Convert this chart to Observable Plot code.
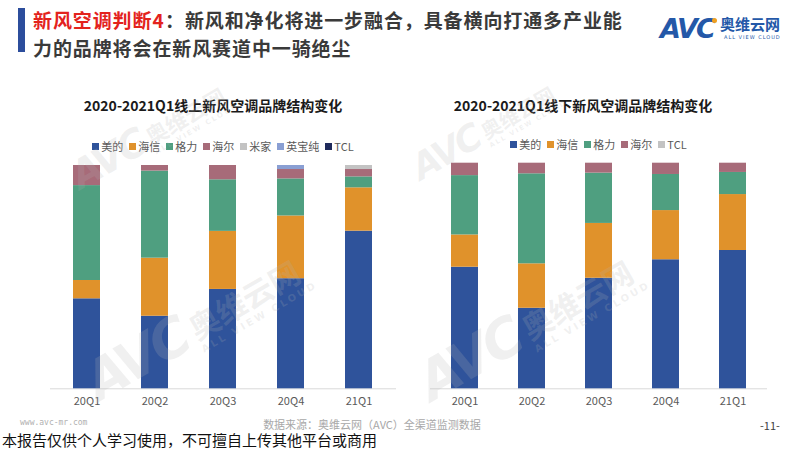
<!DOCTYPE html>
<html><head><meta charset="utf-8">
<script src="https://cdn.jsdelivr.net/npm/d3@7"></script>
<script src="https://cdn.jsdelivr.net/npm/@observablehq/plot@0.6"></script>
<style>
html,body{margin:0;padding:0;background:#fff;}
#page{position:relative;width:800px;height:450px;overflow:hidden;background:#fff;font-family:"Noto Sans CJK SC","Noto Sans",sans-serif;}
.abs{position:absolute;white-space:nowrap;}
.legend{position:absolute;display:flex;justify-content:center;gap:6px;font-size:11px;color:#595959;line-height:14px;}
.legend .it{display:flex;align-items:center;gap:2px;}
.legend .sw{width:7px;height:7px;display:inline-block;}
.wm{position:absolute;transform-origin:0 100%;color:rgba(180,180,180,0.20);white-space:nowrap;z-index:5;pointer-events:none;font-family:"DejaVu Sans","Noto Sans CJK SC",sans-serif;}
.wm .a{font-size:60px;font-weight:bold;font-style:italic;letter-spacing:-4px;vertical-align:bottom;}
.wm .b{display:inline-block;vertical-align:bottom;margin-left:8px;}
.wm .b1{font-size:34px;font-weight:bold;font-family:"Noto Sans CJK SC";line-height:38px;display:block;}
.wm .b2{font-size:11px;letter-spacing:3px;display:block;font-weight:bold;}
.tt{font-size:19px;line-height:27px;letter-spacing:0.9px;font-weight:bold;color:#3a3a3a;}
</style></head>
<body><div id="page"></div>
<script>
// ---------- data ----------
const quarters = ["20Q1","20Q2","20Q3","20Q4","21Q1"];
const onlineBrands = ["美的","海信","格力","海尔","米家","英宝纯","TCL"];
const onlineColors = ["#2f539b","#e0922b","#4f9f80","#a76b79","#c3c3c3","#8a9fd3","#1f2b5c"];
const onMidea   = [40.3, 32.5, 44.5, 49.3, 70.6];
const onHisense = [ 8.2, 26.0, 26.0, 28.1, 19.4];
const onGree    = [42.5, 39.0, 23.1, 16.6,  4.9];
const onHaier   = [ 9.0,  2.5,  6.4,  4.2,  3.3];
const onMijia   = [ 0,    0,    0,    0,    1.8];
const onYingbao = [ 0,    0,    0,    1.8,  0  ];
const onTCL     = [ 0,    0,    0,    0,    0  ];

const offlineBrands = ["美的","海信","格力","海尔","TCL"];
const offlineColors = ["#2f539b","#e0922b","#4f9f80","#a76b79","#c3c3c3"];
const offMidea   = [53.9, 35.7, 49.0, 57.2, 61.3];
const offHisense = [14.3, 19.7, 24.3, 21.8, 24.8];
const offGree    = [26.3, 39.9, 22.3, 16.0,  9.8];
const offHaier   = [ 5.5,  4.7,  4.4,  5.0,  4.1];
const offTCL     = [ 0,    0,    0,    0,    0  ];

const mainTitleRed = "新风空调判断4";
const mainTitleRest1 = "：新风和净化将进一步融合，具备横向打通多产业能";
const mainTitleLine2 = "力的品牌将会在新风赛道中一骑绝尘";
const leftTitle = "2020-2021Q1线上新风空调品牌结构变化";
const rightTitle = "2020-2021Q1线下新风空调品牌结构变化";
const sourceText = "数据来源：奥维云网（AVC）全渠道监测数据";
const siteText = "www.avc-mr.com";
const pageNo = "-11-";
const disclaimer = "本报告仅供个人学习使用，不可擅自上传其他平台或商用";

// ---------- helpers ----------
const page = document.getElementById("page");
function el(tag, cls, style, html){const e=document.createElement(tag); if(cls) e.className=cls; if(style) e.setAttribute("style",style); if(html!=null) e.textContent=html; page.appendChild(e); return e;}
function toRows(brands, series){const rows=[]; brands.forEach((b,i)=>quarters.forEach((q,j)=>rows.push({q, brand:b, v:series[i][j]}))); return rows;}

const font = '"Noto Sans CJK SC","Noto Sans",sans-serif';
function chart(rows, brands, colors, o){
  return Plot.plot({
    width:o.width, height:o.height,
    marginLeft:o.ml, marginRight:o.mr, marginTop:o.mt, marginBottom:o.mb,
    x:{domain:quarters, paddingInner:0.6, paddingOuter:o.po, label:null, tickSize:0, tickPadding:8},
    y:{domain:[0,100], axis:null},
    color:{domain:brands, range:colors},
    style:{fontFamily:font, fontSize:"11px", color:"#595959", background:"transparent", overflow:"visible"},
    marks:[
      Plot.ruleY([0],{stroke:"#d9d9d9", strokeWidth:1}),
      Plot.barY(rows.filter(d=>d.v>0),{x:"q", y:"v", fill:"brand", z:"brand", order:brands})
    ]
  });
}
function legend(brands, colors, left, width, top){
  const L = el("div","legend",`left:${left}px;width:${width}px;top:${top}px;`);
  brands.forEach((b,i)=>{
    const it=document.createElement("span"); it.className="it";
    const sw=document.createElement("span"); sw.className="sw"; sw.style.background=colors[i];
    const tx=document.createElement("span"); tx.textContent=b;
    it.appendChild(sw); it.appendChild(tx); L.appendChild(it);
  });
}

// ---------- header ----------
el("div","abs","left:18px;top:8px;width:7px;height:44px;background:#2c4d9c;");
const red = el("div","abs tt",`left:33px;top:6px;color:#e3231d;`,mainTitleRed);
el("div","abs tt",`left:${33+red.offsetWidth}px;top:6px;`,mainTitleRest1);
el("div","abs tt",`left:33px;top:34px;`,mainTitleLine2);
// logo
el("div","abs",`left:660px;top:14px;font-family:'DejaVu Sans',sans-serif;font-size:27px;font-weight:bold;font-style:italic;color:#2458a8;letter-spacing:-2px;line-height:30px;`,"AVC");
el("div","abs","left:712px;top:18px;width:5px;height:5px;border-radius:50%;background:#f0a020;");
el("div","abs",`left:720px;top:15px;font-size:15px;font-weight:bold;color:#2458a8;line-height:18px;`,"奥维云网");
el("div","abs",`left:724px;top:34px;font-size:5px;color:#2458a8;letter-spacing:1px;line-height:6px;font-family:'DejaVu Sans',sans-serif;`,"ALL VIEW CLOUD");

// ---------- chart titles ----------
el("div","abs",`left:60px;width:306px;top:95px;text-align:center;font-size:14px;font-weight:bold;color:#1a1a1a;line-height:20px;`,leftTitle);
el("div","abs",`left:433px;width:300px;top:95px;text-align:center;font-size:14px;font-weight:bold;color:#1a1a1a;line-height:20px;`,rightTitle);

// ---------- legends ----------
legend(onlineBrands, onlineColors, 50, 346, 139);
legend(offlineBrands, offlineColors, 430, 337, 137);

// ---------- charts ----------
const left = chart(toRows(onlineBrands,[onMidea,onHisense,onGree,onHaier,onMijia,onYingbao,onTCL]), onlineBrands, onlineColors,
  {width:400,height:265,ml:50,mr:4,mt:15,mb:26.7,po:0.31});
left.style.position="absolute"; left.style.left="0px"; left.style.top="150px";
page.appendChild(left);
const right = chart(toRows(offlineBrands,[offMidea,offHisense,offGree,offHaier,offTCL]), offlineBrands, offlineColors,
  {width:400,height:265,ml:30,mr:33,mt:12.7,mb:26.7,po:0.29});
right.style.position="absolute"; right.style.left="400px"; right.style.top="150px";
page.appendChild(right);

// ---------- footer ----------
el("div","abs",`left:20px;top:418px;font-size:8px;color:#b0b0b0;line-height:10px;font-family:'DejaVu Sans Mono',monospace;`,siteText);
el("div","abs",`left:232px;width:280px;top:416px;text-align:center;font-size:11px;color:#a8a8a8;line-height:16px;`,sourceText);
el("div","abs",`left:760px;top:418px;font-size:11px;color:#404040;line-height:14px;`,pageNo);
el("div","abs",`left:2px;top:431px;font-size:15px;color:#111;line-height:18px;`,disclaimer);

// ---------- watermarks ----------
function wm(x,y,s){
  const d=el("div","wm",`left:${x}px;top:${y-62}px;transform:rotate(-30deg) scale(${s});`);
  d.innerHTML=`<span class="a">AVC</span><span class="b"><span class="b1">奥维云网</span><span class="b2">ALL VIEW CLOUD</span></span>`;
}
wm(85,190,0.65); wm(105,405,0.9); wm(425,180,0.6); wm(438,405,0.9);
</script>
</body></html>
